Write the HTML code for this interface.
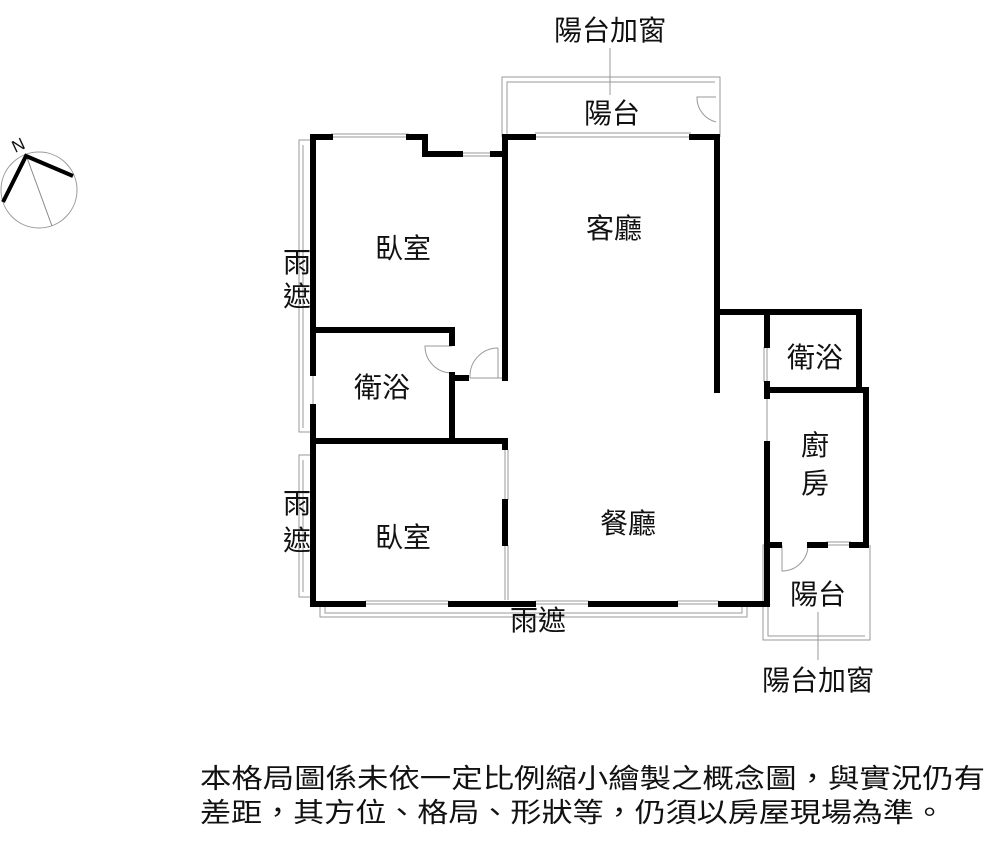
<!DOCTYPE html>
<html><head><meta charset="utf-8"><style>
html,body{margin:0;padding:0;background:#fff;}
svg text{font-family:"Liberation Sans","Noto Sans CJK TC",sans-serif;fill:#111;}
</style></head><body>
<svg width="1000" height="851" viewBox="0 0 1000 851" xmlns="http://www.w3.org/2000/svg">
<circle cx="39" cy="190" r="38" fill="none" stroke="#999" stroke-width="1"/>
<line x1="26" y1="155" x2="52" y2="226" stroke="#888" stroke-width="1"/>
<polyline points="3,202 26,156 73,176" fill="none" stroke="#000" stroke-width="4"/>
<text x="12" y="151" font-size="17" transform="rotate(-25 18 145)">N</text>

<g fill="none" stroke="#999" stroke-width="1">
<polyline points="502,137 502,77 720,77 720,137"/>
<polyline points="507,137 507,82 715,82"/>
<line x1="535" y1="137" x2="691" y2="137"/>
<line x1="535" y1="133" x2="691" y2="133"/>
<path d="M716,97 L697,97 A25,25 0 0 0 716,122"/>
<line x1="331" y1="137" x2="409" y2="137"/><line x1="331" y1="134" x2="409" y2="134"/>
<line x1="460" y1="153" x2="493" y2="153"/><line x1="460" y1="156" x2="493" y2="156"/>
<polyline points="311,140 299,140 299,432 311,432"/>
<line x1="303" y1="145" x2="303" y2="428"/>
<polyline points="311,455 299,455 299,597 311,597"/>
<line x1="303" y1="460" x2="303" y2="592"/>
<line x1="313" y1="373" x2="313" y2="407"/>
<path d="M452,346 L425,346 A27,27 0 0 0 452,373"/>
<path d="M498,348 A28,28 0 0 0 470,376 L470,378"/>
<line x1="498" y1="348" x2="498" y2="378"/>
<line x1="470" y1="378" x2="502" y2="378"/>
<line x1="505" y1="450" x2="505" y2="500"/><line x1="508" y1="450" x2="508" y2="500"/>
<line x1="505" y1="545" x2="505" y2="600"/><line x1="508" y1="545" x2="508" y2="600"/>
<line x1="365" y1="604" x2="449" y2="604"/><line x1="365" y1="601" x2="449" y2="601"/>
<line x1="535" y1="604" x2="589" y2="604"/><line x1="535" y1="601" x2="589" y2="601"/>
<line x1="677" y1="604" x2="719" y2="604"/><line x1="677" y1="601" x2="719" y2="601"/>
<polyline points="320,607 320,617 747,617 747,607"/>
<polyline points="325,607 325,613 742,613 742,607"/>
<line x1="767" y1="347" x2="767" y2="382"/><line x1="764" y1="347" x2="764" y2="382"/>
<line x1="767" y1="398" x2="767" y2="442"/>
<polyline points="767,545 763,545 763,640 870,640 870,545"/>
<polyline points="768,550 768,636 865,636"/>
<line x1="826" y1="545" x2="851" y2="545"/><line x1="826" y1="542" x2="851" y2="542"/>
<path d="M808,545 A26,26 0 0 1 782,571 L782,545"/>
<line x1="610" y1="48" x2="610" y2="95"/>
<line x1="818" y1="612" x2="818" y2="660"/>
</g>

<g stroke="#000" stroke-width="6" fill="none" stroke-linecap="square">
<line x1="313" y1="137" x2="313" y2="373"/>
<line x1="313" y1="407" x2="313" y2="604"/>
<line x1="313" y1="137" x2="330" y2="137"/>
<polyline points="409,137 425,137 425,154 460,154"/>
<line x1="493" y1="154" x2="505" y2="154"/>
<line x1="505" y1="137" x2="505" y2="378"/>
<line x1="505" y1="137" x2="533" y2="137"/>
<line x1="692" y1="137" x2="717" y2="137"/>
<line x1="717" y1="137" x2="717" y2="390"/>
<line x1="313" y1="330" x2="452" y2="330"/>
<line x1="452" y1="330" x2="452" y2="343"/>
<line x1="452" y1="375" x2="452" y2="440"/>
<line x1="452" y1="378" x2="466" y2="378"/>
<line x1="313" y1="441" x2="505" y2="441"/>
<line x1="505" y1="441" x2="505" y2="447"/>
<line x1="505" y1="502" x2="505" y2="543"/>
<line x1="313" y1="604" x2="363" y2="604"/>
<line x1="451" y1="604" x2="533" y2="604"/>
<line x1="591" y1="604" x2="675" y2="604"/>
<line x1="721" y1="604" x2="767" y2="604"/>
<line x1="720" y1="312" x2="859" y2="312"/>
<line x1="859" y1="312" x2="859" y2="388"/>
<line x1="767" y1="312" x2="767" y2="345"/>
<line x1="767" y1="384" x2="767" y2="396"/>
<line x1="767" y1="390" x2="866" y2="390"/>
<line x1="866" y1="390" x2="866" y2="545"/>
<line x1="767" y1="444" x2="767" y2="604"/>
<line x1="767" y1="545" x2="779" y2="545"/>
<line x1="810" y1="545" x2="825" y2="545"/>
<line x1="852" y1="545" x2="866" y2="545"/>
</g>

<g font-size="28">
<text x="610" y="40" text-anchor="middle">陽台加窗</text>
<text x="612" y="123" text-anchor="middle">陽台</text>
<text x="614" y="238" text-anchor="middle">客廳</text>
<text x="403" y="258" text-anchor="middle">臥室</text>
<text x="297" y="272" text-anchor="middle">雨</text>
<text x="297" y="306" text-anchor="middle">遮</text>
<text x="382" y="397" text-anchor="middle">衛浴</text>
<text x="815" y="367" text-anchor="middle">衛浴</text>
<text x="815" y="455" text-anchor="middle">廚</text>
<text x="815" y="493" text-anchor="middle">房</text>
<text x="297" y="513" text-anchor="middle">雨</text>
<text x="297" y="550" text-anchor="middle">遮</text>
<text x="403" y="547" text-anchor="middle">臥室</text>
<text x="628" y="533" text-anchor="middle">餐廳</text>
<text x="818" y="604" text-anchor="middle">陽台</text>
<text x="538" y="630" text-anchor="middle">雨遮</text>
<text x="818" y="690" text-anchor="middle">陽台加窗</text>
</g>
<g font-size="27">
<text x="200" y="788" textLength="785" lengthAdjust="spacingAndGlyphs">本格局圖係未依一定比例縮小繪製之概念圖，與實況仍有</text>
<text x="200" y="822" textLength="745" lengthAdjust="spacingAndGlyphs">差距，其方位、格局、形狀等，仍須以房屋現場為準。</text>
</g>
</svg>
</body></html>
